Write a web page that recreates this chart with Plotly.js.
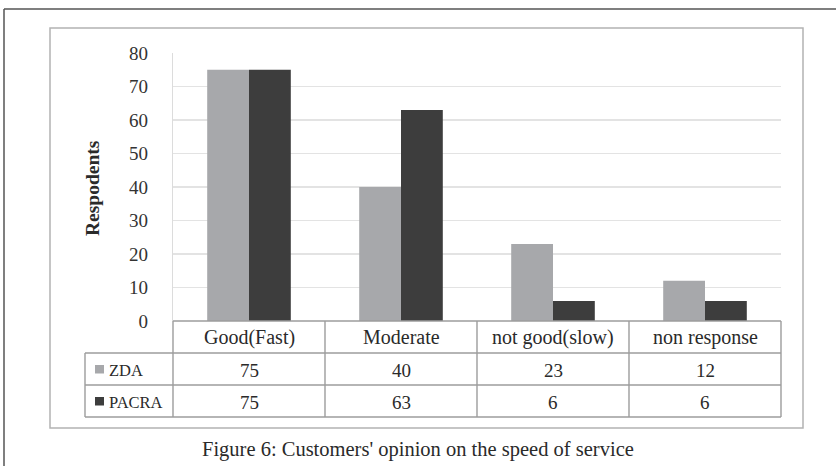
<!DOCTYPE html>
<html>
<head>
<meta charset="utf-8">
<script src="https://cdn.plot.ly/plotly-3.0.1.min.js"></script>
<style>html,body{margin:0;padding:0;background:#fff;}#chart{width:836px;height:466px;}</style>
</head>
<body>
<div id="chart"></div>
<script>
const categories = ['Good(Fast)', 'Moderate', 'not good(slow)', 'non response'];
const seriesNames = ['ZDA', 'PACRA'];
const zda = [75, 40, 23, 12];
const pacra = [75, 63, 6, 6];
const yTicks = [0, 10, 20, 30, 40, 50, 60, 70, 80];
const yTitle = 'Respodents';
const caption = "Figure 6: Customers' opinion on the speed of service";

const W = 836, H = 466;
const L = 173, R = 781, T = 53, B = 321;
const px = x => (x - L) / (R - L);
const py = y => (B - y) / (B - T);
const FONT = 'Liberation Serif';
const colors = ['#a7a8ab', '#3d3d3d'];
const lineCol = '#9c9c9c';

const traces = [
  {type: 'bar', name: seriesNames[0], x: categories, y: zda, marker: {color: colors[0]}, hoverinfo: 'none'},
  {type: 'bar', name: seriesNames[1], x: categories, y: pacra, marker: {color: colors[1]}, hoverinfo: 'none'}
];

const shapes = [];
const annotations = [];
function line(x0, y0, x1, y1, color, width) {
  shapes.push({type: 'line', xref: 'paper', yref: 'paper', x0: px(x0), y0: py(y0), x1: px(x1), y1: py(y1),
    line: {color: color, width: width}, layer: 'above'});
}
// outer frame
line(4, 9, 840, 9, '#555555', 1.5);
line(4, 9, 4, 470, '#555555', 1.5);
// inner chart box
shapes.push({type: 'rect', xref: 'paper', yref: 'paper', x0: px(50), y0: py(28), x1: px(803), y1: py(428),
  line: {color: '#b3b3b3', width: 1.5}, layer: 'below'});

// data table
const rowY = [321, 353, 385, 417];
const colW = (R - L) / categories.length;
const tableLeft = 85;
line(L, rowY[0], R, rowY[0], lineCol, 1.6);
line(tableLeft, rowY[1], R, rowY[1], lineCol, 1.4);
line(tableLeft, rowY[2], R, rowY[2], lineCol, 1.4);
line(tableLeft, rowY[3], R, rowY[3], lineCol, 1.4);
line(tableLeft, rowY[1], tableLeft, rowY[3], lineCol, 1.4);
for (let i = 0; i <= categories.length; i++) {
  line(L + i * colW, rowY[0], L + i * colW, rowY[3], lineCol, 1.4);
}
function txt(x, y, text, size, extra) {
  annotations.push(Object.assign({xref: 'paper', yref: 'paper', x: px(x), y: py(y), text: text, showarrow: false,
    xanchor: 'center', yanchor: 'middle', font: {family: FONT, size: size, color: '#2a2a2a'}}, extra || {}));
}
categories.forEach((c, i) => {
  const cx = L + (i + 0.5) * colW;
  txt(cx, (rowY[0] + rowY[1]) / 2, c, 20);
  txt(cx, (rowY[1] + rowY[2]) / 2 + 1, String(zda[i]), 19);
  txt(cx, (rowY[2] + rowY[3]) / 2 + 1, String(pacra[i]), 19);
});
[zda, pacra].forEach((s, k) => {
  const cy = (rowY[k + 1] + rowY[k + 2]) / 2;
  shapes.push({type: 'rect', xref: 'paper', yref: 'paper', x0: px(95), x1: px(104), y0: py(cy - 4), y1: py(cy + 4.5),
    fillcolor: colors[k], line: {width: 0}, layer: 'above'});
  txt(107, cy + 1, seriesNames[k], 16.5, {xanchor: 'left'});
});
// y title
txt(92, 188, '<b>' + yTitle + '</b>', 19.5, {textangle: -90});
// caption
txt(418, 449, caption, 20.5);

const layout = {
  width: W, height: H,
  margin: {l: L, r: W - R, t: T, b: H - B, pad: 0},
  paper_bgcolor: '#ffffff', plot_bgcolor: '#ffffff',
  showlegend: false,
  barmode: 'group', bargap: 0.45, bargroupgap: 0,
  xaxis: {type: 'category', range: [-0.5, 3.5], showticklabels: false, showgrid: false, zeroline: false, showline: false, ticks: ''},
  yaxis: {range: [0, 80], tickvals: yTicks, ticktext: yTicks.map(String), showgrid: true, gridcolor: '#e3e3e3', gridwidth: 1.2,
    zeroline: false, showline: true, linecolor: '#dcdcdc', linewidth: 1.2, ticks: '', ticklabelstandoff: 20,
    tickfont: {family: FONT, size: 19, color: '#333333'}},
  shapes: shapes,
  annotations: annotations
};
Plotly.newPlot('chart', traces, layout, {staticPlot: true, displayModeBar: false});
</script>
</body>
</html>
